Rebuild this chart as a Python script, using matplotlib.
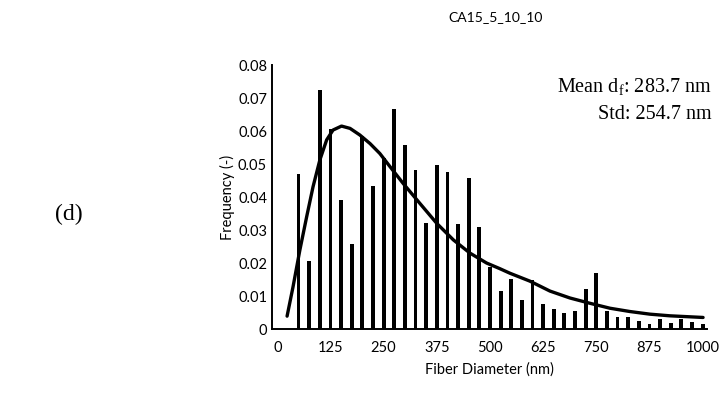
import matplotlib
matplotlib.use("Agg")
import matplotlib.pyplot as plt

# Histogram bins (nm) and frequencies
bin_centers = [50, 75, 100, 125, 150, 175, 200, 225, 250, 275, 300, 325, 350, 375,
               400, 425, 450, 475, 500, 525, 550, 575, 600, 625, 650, 675, 700, 725,
               750, 775, 800, 825, 850, 875, 900, 925, 950, 975, 1000]
frequencies = [0.0469, 0.0206, 0.0724, 0.0606, 0.0390, 0.0257, 0.0585, 0.0434, 0.0517,
               0.0667, 0.0558, 0.0481, 0.0320, 0.0496, 0.0475, 0.0318, 0.0457, 0.0308,
               0.0189, 0.0116, 0.0152, 0.0087, 0.0148, 0.0076, 0.0061, 0.0048, 0.0054,
               0.0122, 0.0169, 0.0054, 0.0035, 0.0035, 0.0024, 0.0014, 0.0031, 0.0018,
               0.0031, 0.0021, 0.0014]

# Fitted distribution curve
curve_x = [23, 37, 53, 69, 84, 100, 116, 131, 151, 171, 194, 218, 241, 265, 296,
           335, 375, 414, 453, 492, 523, 547, 594, 641, 688, 735, 782, 829, 876,
           923, 1001]
curve_y = [0.0039, 0.0128, 0.0239, 0.0340, 0.0431, 0.0512, 0.0573, 0.0603, 0.0615,
           0.0608, 0.0588, 0.0562, 0.0532, 0.0492, 0.0441, 0.0381, 0.0320, 0.0270,
           0.0230, 0.0200, 0.0183, 0.0169, 0.0145, 0.0115, 0.0094, 0.0078, 0.0063,
           0.0053, 0.0045, 0.0040, 0.0035]

x_ticks = [0, 125, 250, 375, 500, 625, 750, 875, 1000]
y_ticks = [0, 0.01, 0.02, 0.03, 0.04, 0.05, 0.06, 0.07, 0.08]
y_tick_labels = ["0", "0.01", "0.02", "0.03", "0.04", "0.05", "0.06", "0.07", "0.08"]

sans = ["Lato", "DejaVu Sans"]
serif = ["Liberation Serif", "DejaVu Serif"]

fig = plt.figure(figsize=(7.27, 4.08), dpi=100)
ax = fig.add_axes([0.374, 0.1936, 0.598, 0.647])

ax.bar(bin_centers, frequencies, width=9, color="black", zorder=2)
ax.plot(curve_x, curve_y, color="black", linewidth=2.4, zorder=3,
        solid_capstyle="round", solid_joinstyle="round")

ax.set_xlim(-12.7, 1009.4)
ax.set_ylim(0, 0.08)
ax.set_xticks(x_ticks)
ax.set_xticklabels([str(v) for v in x_ticks], fontsize=10.5, family=sans)
ax.set_yticks(y_ticks)
ax.set_yticklabels(y_tick_labels, fontsize=10.5, family=sans)
ax.tick_params(axis="x", length=0, pad=8.5)
ax.tick_params(axis="y", length=0, pad=3.5)

for s in ["top", "right"]:
    ax.spines[s].set_visible(False)
for s in ["left", "bottom"]:
    ax.spines[s].set_linewidth(1.4)
    ax.spines[s].set_color("black")

ax.set_xlabel("Fiber Diameter (nm)", fontsize=10.5, family=sans)
ax.set_ylabel("Frequency (-)", fontsize=10.5, family=sans)
ax.xaxis.set_label_coords(0.5, -0.125)
ax.yaxis.set_label_coords(-0.085, 0.5)

fig.text(0.681, 0.958, "CA15_5_10_10", ha="center", va="center",
         fontsize=10, family=sans)
ax.text(1.012, 0.955, "Mean d$_\\mathregular{f}$: 283.7 nm\nStd: 254.7 nm",
        transform=ax.transAxes, ha="right", va="top", fontsize=14.5,
        family=serif, linespacing=1.5)
fig.text(0.095, 0.474, "(d)", ha="center", va="center", fontsize=17,
         family=serif)

fig.savefig("out.png", dpi=100)
